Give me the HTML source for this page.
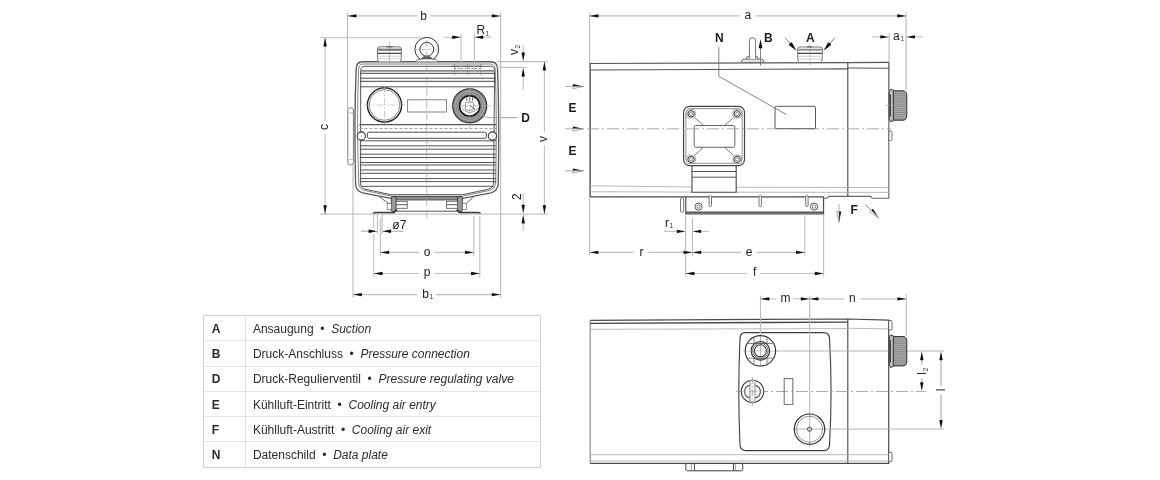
<!DOCTYPE html>
<html><head><meta charset="utf-8"><style>
html,body{margin:0;padding:0;background:#fff;}
body{width:1160px;height:480px;overflow:hidden;position:relative;filter:grayscale(1);font-family:"Liberation Sans",sans-serif;}
svg{position:absolute;left:0;top:0;}
svg text{font-family:"Liberation Sans",sans-serif;}
table{position:absolute;left:203px;top:315px;border-collapse:collapse;font-size:12px;color:#2b2b2b;font-family:"Liberation Sans",sans-serif;border:1px solid #cfcfcf;}
td{border:1px solid #e2e2e2;padding:1px 0 0 8px;box-sizing:border-box;height:25.3px;line-height:14px;}
tr:first-child td{border-top-color:#cfcfcf;} td.k{border-left-color:#cfcfcf;} td.v{border-right-color:#cfcfcf;}
td.k{width:42px;font-weight:bold;padding-left:7.8px;}
td.v{width:295px;padding-left:6.9px;}
tr:last-child td{border-bottom:1.5px solid #cfcfcf;}
</style></head><body>
<svg width="1160" height="480" viewBox="0 0 1160 480">
<path d="M362.5,61.7 L490.5,61.7 Q497.3,61.7 497.5,68.5 Q499.6,120 498.2,184 Q497.8,191 491,192.8 L461.5,198.6 L392.3,198.6 L362.6,192.8 Q355.8,191 355.6,184 Q354,120 356.2,68.5 Q356.6,61.7 362.5,61.7Z" fill="#fff" stroke="#5a5a5a" stroke-width="1.35"/>
<path d="M363,64.0 L490,64.0 Q495.2,64.0 495.2,69.5 Q497.2,120 495.6,183 Q495.2,188.8 489.5,190.4 L461.5,196.3 L392.3,196.3 L364.3,190.4 Q358.8,188.8 358.7,183 Q356.6,120 358.6,69.5 Q358.8,64.0 363,64.0Z" fill="none" stroke="#777" stroke-width="0.9"/>
<path d="M364.6,66.3 Q360.8,66.3 360.7,70.5 L360.6,183 Q360.6,188 366,189.4 L391,194.7 L462.5,194.7 L487.6,189.4 Q493.4,188 493.6,183 L494.6,70.5 Q494.5,66.3 490.5,66.3 Z" fill="none" stroke="#555" stroke-width="1"/>
<line x1="360" y1="70.8" x2="495.3" y2="70.8" stroke="#888" stroke-width="1.8" />
<line x1="360" y1="73.3" x2="495.3" y2="73.3" stroke="#444" stroke-width="1" />
<line x1="360" y1="78.2" x2="495.3" y2="78.2" stroke="#444" stroke-width="1" />
<line x1="360" y1="81.3" x2="495.3" y2="81.3" stroke="#444" stroke-width="1" />
<line x1="360" y1="86.8" x2="495.3" y2="86.8" stroke="#555" stroke-width="1" />
<line x1="359.5" y1="124.6" x2="496.3" y2="124.6" stroke="#555" stroke-width="1.2" />
<line x1="359.5" y1="128.5" x2="496.3" y2="128.5" stroke="#999" stroke-width="0.9" stroke-dasharray="3 2"/>
<line x1="359.8" y1="140.8" x2="496.2" y2="140.8" stroke="#555" stroke-width="1" />
<line x1="359.8" y1="145.8" x2="496.2" y2="145.8" stroke="#555" stroke-width="1" />
<line x1="359.8" y1="149.2" x2="496.2" y2="149.2" stroke="#555" stroke-width="1" />
<line x1="359.8" y1="154.2" x2="496.2" y2="154.2" stroke="#555" stroke-width="1" />
<line x1="359.8" y1="157.5" x2="496.2" y2="157.5" stroke="#555" stroke-width="1" />
<line x1="359.8" y1="162.5" x2="496.2" y2="162.5" stroke="#555" stroke-width="1" />
<line x1="359.8" y1="165.0" x2="496.2" y2="165.0" stroke="#555" stroke-width="1" />
<line x1="359.8" y1="170.0" x2="496.2" y2="170.0" stroke="#555" stroke-width="1" />
<line x1="359.8" y1="173.3" x2="496.2" y2="173.3" stroke="#555" stroke-width="1" />
<line x1="359.8" y1="178.6" x2="496.2" y2="178.6" stroke="#555" stroke-width="1" />
<line x1="359.8" y1="181.6" x2="496.2" y2="181.6" stroke="#555" stroke-width="1" />
<line x1="360.6" y1="186.3" x2="493.6" y2="186.3" stroke="#555" stroke-width="1" />
<rect x="392" y="196.4" width="69.4" height="3.6" fill="#8c8c8c" stroke="#444" stroke-width="0.8"/>
<line x1="396" y1="211.2" x2="457.5" y2="211.2" stroke="#555" stroke-width="1" />
<rect x="391.3" y="196.8" width="4.9" height="14.6" rx="1" fill="#9a9a9a" stroke="#3a3a3a" stroke-width="0.9"/>
<rect x="457.4" y="196.8" width="4.9" height="14.6" rx="1" fill="#9a9a9a" stroke="#3a3a3a" stroke-width="0.9"/>
<rect x="396.2" y="201.3" width="11" height="3.5" fill="#fff" stroke="#555" stroke-width="0.8"/>
<rect x="396.2" y="204.8" width="11" height="3.5" fill="#fff" stroke="#555" stroke-width="0.8"/>
<rect x="446.4" y="201.3" width="11" height="3.5" fill="#fff" stroke="#555" stroke-width="0.8"/>
<rect x="446.4" y="204.8" width="11" height="3.5" fill="#fff" stroke="#555" stroke-width="0.8"/>
<rect x="387.2" y="203.6" width="4.1" height="6" fill="#fff" stroke="#666" stroke-width="0.7"/>
<rect x="462.3" y="203.6" width="4.1" height="6" fill="#fff" stroke="#666" stroke-width="0.7"/>
<line x1="379" y1="196.6" x2="388.5" y2="203.3" stroke="#555" stroke-width="0.9" />
<line x1="473.8" y1="196.6" x2="466.3" y2="203.3" stroke="#555" stroke-width="0.9" />
<path d="M373.6,214 Q373.6,212.6 375.4,212.6 L393.8,212.6 L396.8,209.8" fill="none" stroke="#3c3c3c" stroke-width="1.9"/>
<path d="M480,214 Q480,212.6 478.2,212.6 L459.8,212.6 L456.8,209.8" fill="none" stroke="#3c3c3c" stroke-width="1.9"/>
<rect x="347.8" y="108" width="5.6" height="56.8" rx="1.8" fill="#fff" stroke="#7a7a7a" stroke-width="1"/>
<line x1="348.5" y1="113" x2="353" y2="113" stroke="#999" stroke-width="0.6" />
<line x1="348.5" y1="159.5" x2="353" y2="159.5" stroke="#999" stroke-width="0.6" />
<rect x="367.4" y="132.2" width="119" height="6.1" rx="1.5" fill="#fff" stroke="#444" stroke-width="0.95"/>
<circle cx="361.3" cy="136" r="4.1" fill="#fff" stroke="#333" stroke-width="1.1"/>
<circle cx="361.3" cy="136" r="0.6" fill="#777"/>
<circle cx="492.4" cy="136" r="4.1" fill="#fff" stroke="#333" stroke-width="1.1"/>
<circle cx="492.4" cy="136" r="0.6" fill="#777"/>
<circle cx="384.5" cy="105" r="17.1" fill="#fff" stroke="#222" stroke-width="1.4"/>
<circle cx="384.5" cy="105" r="15.3" fill="none" stroke="#555" stroke-width="0.7"/>
<rect x="407.6" y="99.8" width="39" height="12.2" fill="#fff" stroke="#777" stroke-width="0.9"/>
<circle cx="469.7" cy="105.8" r="17.1" fill="#858585" stroke="#333" stroke-width="1.1"/>
<circle cx="469.7" cy="105.8" r="14.6" fill="none" stroke="#d0d0d0" stroke-width="1" stroke-dasharray="1.2 0.8"/>
<circle cx="469.7" cy="105.8" r="12.6" fill="none" stroke="#c0c0c0" stroke-width="0.9" stroke-dasharray="1 0.8"/>
<circle cx="469.7" cy="105.9" r="10.1" fill="#fff" stroke="#111" stroke-width="1.45"/>
<rect x="465.3" y="102.2" width="8.4" height="7.8" rx="1.6" fill="none" stroke="#8a8a8a" stroke-width="1"/>
<path d="M469.6,105.4 L475.2,109.6" stroke="#555" stroke-width="0.9"/>
<path d="M461.6,108.2 Q469.7,116.8 477.8,108.2" fill="none" stroke="#777" stroke-width="0.8"/>
<line x1="466.8" y1="97.3" x2="466.8" y2="100.8" stroke="#444" stroke-width="0.9" />
<line x1="469.7" y1="97.3" x2="469.7" y2="100.8" stroke="#444" stroke-width="0.9" />
<line x1="472.59999999999997" y1="97.3" x2="472.59999999999997" y2="100.8" stroke="#444" stroke-width="0.9" />
<line x1="460.5" y1="105.9" x2="479" y2="105.9" stroke="#aaa" stroke-width="0.6" stroke-dasharray="3 1.5"/>
<path d="M482,114.5 Q485,117.7 490,117.7 L517.5,117.7" fill="none" stroke="#999" stroke-width="0.9"/>
<path d="M378.2,61.6 Q377.2,57 377.6,53.3 Q377,51.5 377.4,49.2 Q377.6,46.8 380,46.8 L398.8,46.8 Q401.2,46.8 401.4,49.2 Q401.8,51.5 401.2,53.3 Q401.6,57 400.6,61.6" fill="#fff" stroke="#666" stroke-width="0.9"/>
<rect x="377.6" y="48.6" width="23.6" height="2.2" fill="#7a7a7a"/>
<line x1="377.5" y1="53.3" x2="401.3" y2="53.3" stroke="#2a2a2a" stroke-width="1.1" />
<line x1="378" y1="56.2" x2="401" y2="56.2" stroke="#c4c4c4" stroke-width="0.8" />
<line x1="378" y1="58.7" x2="401" y2="58.7" stroke="#c4c4c4" stroke-width="0.8" />
<rect x="386.2" y="46" width="6.5" height="1.6" rx="0.8" fill="#666"/>
<circle cx="426.8" cy="49.3" r="11.9" fill="none" stroke="#333" stroke-width="1"/>
<circle cx="426.8" cy="49.3" r="6.9" fill="#fff" stroke="#333" stroke-width="1"/>
<path d="M415.5,61.6 L418,59.3 L421.2,59.3 Q422.5,56.2 426.8,56.2 Q431.1,56.2 432.4,59.3 L435.6,59.3 L438.2,61.6" fill="#fff" stroke="#555" stroke-width="0.8"/>
<path d="M421.2,59.3 Q422.5,56.2 426.8,56.2 Q431.1,56.2 432.4,59.3 Z" fill="#555"/>
<line x1="452.5" y1="66.3" x2="482.5" y2="66.3" stroke="#555" stroke-width="1" />
<line x1="454" y1="68.6" x2="482" y2="68.6" stroke="#666" stroke-width="0.8" stroke-dasharray="2 1.5"/>
<line x1="454.6" y1="64" x2="454.6" y2="75" stroke="#777" stroke-width="0.7" stroke-dasharray="2 1.2"/>
<line x1="467.5" y1="64" x2="467.5" y2="75" stroke="#777" stroke-width="0.7" stroke-dasharray="2 1.2"/>
<line x1="480.7" y1="64" x2="480.7" y2="75" stroke="#777" stroke-width="0.7" stroke-dasharray="2 1.2"/>
<line x1="426.8" y1="40" x2="426.8" y2="219" stroke="#999" stroke-width="0.7" stroke-dasharray="7 2 1.2 2"/>
<line x1="416" y1="49.3" x2="438" y2="49.3" stroke="#999" stroke-width="0.6" stroke-dasharray="4 2"/>
<line x1="389.4" y1="42" x2="389.4" y2="66" stroke="#999" stroke-width="0.6" stroke-dasharray="7 2 1.2 2"/>
<line x1="364" y1="105" x2="405" y2="105" stroke="#aaa" stroke-width="0.6" stroke-dasharray="7 2 1.2 2"/>
<line x1="384.5" y1="86" x2="384.5" y2="124" stroke="#aaa" stroke-width="0.6" stroke-dasharray="7 2 1.2 2"/>
<line x1="449" y1="105.8" x2="491" y2="105.8" stroke="#aaa" stroke-width="0.6" stroke-dasharray="7 2 1.2 2"/>
<line x1="469.7" y1="86" x2="469.7" y2="130" stroke="#aaa" stroke-width="0.6" stroke-dasharray="7 2 1.2 2"/>
<line x1="347.5" y1="12.8" x2="347.5" y2="108" stroke="#bcbcbc" stroke-width="1.1" />
<line x1="500.6" y1="12.8" x2="500.6" y2="297.5" stroke="#bcbcbc" stroke-width="1.1" />
<line x1="347.5" y1="15.9" x2="417.3" y2="15.9" stroke="#c0c0c0" stroke-width="1.1" />
<line x1="429.9" y1="15.9" x2="500.6" y2="15.9" stroke="#c0c0c0" stroke-width="1.1" />
<path d="M347.50,15.90 L356.10,14.20 Q356.90,15.90 356.10,17.60Z" fill="#111"/>
<path d="M500.60,15.90 L492.00,17.60 Q491.20,15.90 492.00,14.20Z" fill="#111"/>
<text x="423.5" y="20.0" font-size="12" text-anchor="middle" fill="#1c1c1c" >b</text>
<line x1="320" y1="37.7" x2="421.5" y2="37.7" stroke="#bcbcbc" stroke-width="1.1" />
<line x1="320" y1="214.1" x2="547.6" y2="214.1" stroke="#c4c4c4" stroke-width="1.1" />
<line x1="325.1" y1="37.7" x2="325.1" y2="121" stroke="#c0c0c0" stroke-width="1.1" />
<line x1="325.1" y1="133.7" x2="325.1" y2="214.1" stroke="#c0c0c0" stroke-width="1.1" />
<path d="M325.10,37.70 L326.80,46.30 Q325.10,47.10 323.40,46.30Z" fill="#111"/>
<path d="M325.10,214.10 L323.40,205.50 Q325.10,204.70 326.80,205.50Z" fill="#111"/>
<text x="328.2" y="127.1" font-size="12" text-anchor="middle" fill="#1c1c1c" transform="rotate(-90 328.2 127.1)" >c</text>
<line x1="497" y1="61.6" x2="547.6" y2="61.6" stroke="#bcbcbc" stroke-width="1.1" />
<line x1="544.4" y1="61.6" x2="544.4" y2="132.5" stroke="#c0c0c0" stroke-width="1.1" />
<line x1="544.4" y1="145.3" x2="544.4" y2="214.1" stroke="#c0c0c0" stroke-width="1.1" />
<path d="M544.40,61.60 L546.10,70.20 Q544.40,71.00 542.70,70.20Z" fill="#111"/>
<path d="M544.40,214.10 L542.70,205.50 Q544.40,204.70 546.10,205.50Z" fill="#111"/>
<text x="547.5" y="139.1" font-size="12" text-anchor="middle" fill="#1c1c1c" transform="rotate(-90 547.5 139.1)" >v</text>
<line x1="497" y1="67.4" x2="526.5" y2="67.4" stroke="#bcbcbc" stroke-width="1.1" />
<line x1="523.2" y1="44.7" x2="523.2" y2="53" stroke="#c0c0c0" stroke-width="1.1" />
<path d="M523.20,61.30 L521.50,52.70 Q523.20,51.90 524.90,52.70Z" fill="#111"/>
<line x1="523.2" y1="76" x2="523.2" y2="90" stroke="#c0c0c0" stroke-width="1.1" />
<path d="M523.20,67.70 L524.90,76.30 Q523.20,77.10 521.50,76.30Z" fill="#111"/>
<text x="518.3" y="52" font-size="12" text-anchor="middle" fill="#1c1c1c" transform="rotate(-90 518.3 52)" >v</text>
<text x="520.2" y="46.6" font-size="6.5" text-anchor="middle" fill="#333" transform="rotate(-90 520.2 46.6)" >2</text>
<line x1="461" y1="34" x2="461" y2="75" stroke="#bcbcbc" stroke-width="1.1" />
<line x1="474.4" y1="34" x2="474.4" y2="75" stroke="#bcbcbc" stroke-width="1.1" />
<line x1="444" y1="37.3" x2="452" y2="37.3" stroke="#c0c0c0" stroke-width="1.1" />
<path d="M461.00,37.30 L452.40,39.00 Q451.60,37.30 452.40,35.60Z" fill="#111"/>
<line x1="483" y1="37.3" x2="491" y2="37.3" stroke="#c0c0c0" stroke-width="1.1" />
<path d="M474.40,37.30 L483.00,35.60 Q483.80,37.30 483.00,39.00Z" fill="#111"/>
<text x="476.6" y="33.7" font-size="12" text-anchor="start" fill="#1c1c1c" >R</text>
<text x="485.6" y="36.0" font-size="6.5" text-anchor="start" fill="#333" >1</text>
<line x1="523.2" y1="192.8" x2="523.2" y2="205" stroke="#c0c0c0" stroke-width="1.1" />
<path d="M523.20,213.60 L521.50,205.00 Q523.20,204.20 524.90,205.00Z" fill="#111"/>
<line x1="523.2" y1="223" x2="523.2" y2="231" stroke="#c0c0c0" stroke-width="1.1" />
<path d="M523.20,214.60 L524.90,223.20 Q523.20,224.00 521.50,223.20Z" fill="#111"/>
<text x="520.6" y="196.7" font-size="12" text-anchor="middle" fill="#1c1c1c" transform="rotate(-90 520.6 196.7)" >2</text>
<line x1="380.3" y1="218" x2="380.3" y2="256" stroke="#bcbcbc" stroke-width="1.1" />
<line x1="473.8" y1="216" x2="473.8" y2="256" stroke="#bcbcbc" stroke-width="1.1" />
<line x1="380.3" y1="252.4" x2="419.1" y2="252.4" stroke="#c0c0c0" stroke-width="1.1" />
<line x1="434.3" y1="252.4" x2="473.8" y2="252.4" stroke="#c0c0c0" stroke-width="1.1" />
<path d="M380.30,252.40 L388.90,250.70 Q389.70,252.40 388.90,254.10Z" fill="#111"/>
<path d="M473.80,252.40 L465.20,254.10 Q464.40,252.40 465.20,250.70Z" fill="#111"/>
<text x="427" y="255.6" font-size="12" text-anchor="middle" fill="#1c1c1c" >o</text>
<line x1="373.8" y1="215" x2="373.8" y2="228" stroke="#bcbcbc" stroke-width="1.1" />
<line x1="373.8" y1="234" x2="373.8" y2="277.5" stroke="#bcbcbc" stroke-width="1.1" />
<line x1="479.8" y1="216" x2="479.8" y2="277.5" stroke="#bcbcbc" stroke-width="1.1" />
<line x1="373.8" y1="273.5" x2="419.1" y2="273.5" stroke="#c0c0c0" stroke-width="1.1" />
<line x1="434.3" y1="273.5" x2="479.8" y2="273.5" stroke="#c0c0c0" stroke-width="1.1" />
<path d="M373.80,273.50 L382.40,271.80 Q383.20,273.50 382.40,275.20Z" fill="#111"/>
<path d="M479.80,273.50 L471.20,275.20 Q470.40,273.50 471.20,271.80Z" fill="#111"/>
<text x="427" y="276.2" font-size="12" text-anchor="middle" fill="#1c1c1c" >p</text>
<line x1="353" y1="165" x2="353" y2="297.5" stroke="#bcbcbc" stroke-width="1.1" />
<line x1="353" y1="294.6" x2="417.4" y2="294.6" stroke="#c0c0c0" stroke-width="1.1" />
<line x1="436" y1="294.6" x2="500.6" y2="294.6" stroke="#c0c0c0" stroke-width="1.1" />
<path d="M353.00,294.60 L361.60,292.90 Q362.40,294.60 361.60,296.30Z" fill="#111"/>
<path d="M500.60,294.60 L492.00,296.30 Q491.20,294.60 492.00,292.90Z" fill="#111"/>
<text x="425.5" y="298.3" font-size="12" text-anchor="middle" fill="#1c1c1c" >b</text>
<text x="429.8" y="298.6" font-size="6.5" text-anchor="start" fill="#333" >1</text>
<line x1="377.4" y1="215" x2="377.4" y2="234" stroke="#bcbcbc" stroke-width="1.1" />
<line x1="382.2" y1="215" x2="382.2" y2="234" stroke="#bcbcbc" stroke-width="1.1" />
<line x1="361" y1="231.2" x2="369" y2="231.2" stroke="#aaa" stroke-width="1.1" />
<path d="M377.40,231.20 L368.80,232.90 Q368.00,231.20 368.80,229.50Z" fill="#111"/>
<line x1="391" y1="231.2" x2="403.6" y2="231.2" stroke="#aaa" stroke-width="1.1" />
<path d="M382.20,231.20 L390.80,229.50 Q391.60,231.20 390.80,232.90Z" fill="#111"/>
<text x="392.3" y="229.1" font-size="12" text-anchor="start" fill="#1c1c1c" >ø7</text>
<text x="525.5" y="121.9" font-size="12" text-anchor="middle" font-weight="bold" fill="#1c1c1c" >D</text>
<line x1="589.6" y1="12.8" x2="589.6" y2="255" stroke="#bcbcbc" stroke-width="1.1" />
<line x1="906.1" y1="12.5" x2="906.1" y2="90" stroke="#bcbcbc" stroke-width="1.1" />
<line x1="589.6" y1="15.9" x2="739.8" y2="15.9" stroke="#c0c0c0" stroke-width="1.1" />
<line x1="755.8" y1="15.9" x2="906.1" y2="15.9" stroke="#c0c0c0" stroke-width="1.1" />
<path d="M589.60,15.90 L598.20,14.20 Q599.00,15.90 598.20,17.60Z" fill="#111"/>
<path d="M906.10,15.90 L897.50,17.60 Q896.70,15.90 897.50,14.20Z" fill="#111"/>
<text x="747.9" y="18.7" font-size="12" text-anchor="middle" fill="#1c1c1c" >a</text>
<line x1="889.1" y1="33.6" x2="889.1" y2="90" stroke="#bcbcbc" stroke-width="1.1" />
<line x1="872" y1="36.9" x2="881" y2="36.9" stroke="#c0c0c0" stroke-width="1.1" />
<path d="M889.10,36.90 L880.50,38.60 Q879.70,36.90 880.50,35.20Z" fill="#111"/>
<line x1="914" y1="36.9" x2="922.5" y2="36.9" stroke="#c0c0c0" stroke-width="1.1" />
<path d="M906.10,36.90 L914.70,35.20 Q915.50,36.90 914.70,38.60Z" fill="#111"/>
<text x="893" y="40.1" font-size="12" text-anchor="start" fill="#1c1c1c" >a</text>
<text x="900.4" y="41.4" font-size="6.5" text-anchor="start" fill="#333" >1</text>
<line x1="565" y1="86.4" x2="575" y2="86.4" stroke="#aaa" stroke-width="1" />
<path d="M583.70,86.40 L572.90,84.10 L572.90,86.40Z" fill="#111"/>
<path d="M583.70,86.40 L572.90,88.70 L572.90,86.40Z" fill="#fff" stroke="#777" stroke-width="0.6"/>
<line x1="565" y1="128.8" x2="575" y2="128.8" stroke="#aaa" stroke-width="1" />
<path d="M583.70,128.80 L572.90,126.50 L572.90,128.80Z" fill="#111"/>
<path d="M583.70,128.80 L572.90,131.10 L572.90,128.80Z" fill="#fff" stroke="#777" stroke-width="0.6"/>
<line x1="565" y1="170.8" x2="575" y2="170.8" stroke="#aaa" stroke-width="1" />
<path d="M583.70,170.80 L572.90,168.50 L572.90,170.80Z" fill="#111"/>
<path d="M583.70,170.80 L572.90,173.10 L572.90,170.80Z" fill="#fff" stroke="#777" stroke-width="0.6"/>
<text x="572.6" y="112" font-size="12" text-anchor="middle" font-weight="bold" fill="#1c1c1c" >E</text>
<text x="572.6" y="154.5" font-size="12" text-anchor="middle" font-weight="bold" fill="#1c1c1c" >E</text>
<path d="M590.2,196.8 L590.2,63.5 L847.8,62.6 L888.8,62.3" fill="none" stroke="#555" stroke-width="1.2"/>
<path d="M888.8,62.3 L888.8,198.3 L872.2,198.3 L870.5,196.4 L829,196.4 L826.8,198.2 L823.6,198.2" fill="none" stroke="#666" stroke-width="1.1"/>
<line x1="590.2" y1="70.0" x2="847.8" y2="68.9" stroke="#555" stroke-width="1.2" />
<line x1="847.8" y1="68.0" x2="888.8" y2="68.3" stroke="#555" stroke-width="1.1" />
<line x1="847.8" y1="62.3" x2="847.8" y2="196.4" stroke="#444" stroke-width="1.1" />
<line x1="590.2" y1="196.8" x2="823.6" y2="196.8" stroke="#4a4a4a" stroke-width="1.2" />
<line x1="590.5" y1="185.8" x2="692" y2="187" stroke="#b0b0b0" stroke-width="0.9" />
<line x1="736" y1="187.2" x2="888.5" y2="187.6" stroke="#b0b0b0" stroke-width="0.9" />
<line x1="590.5" y1="191.7" x2="692" y2="192.1" stroke="#b0b0b0" stroke-width="0.9" />
<line x1="736" y1="192.2" x2="888.5" y2="192.4" stroke="#b0b0b0" stroke-width="0.9" />
<path d="M685.8,196.8 L685.8,214 L823.6,214 L823.6,196.8" fill="none" stroke="#444" stroke-width="1.1"/>
<line x1="686" y1="212.6" x2="823.5" y2="212.6" stroke="#555" stroke-width="2" />
<rect x="680.5" y="198" width="3.2" height="14" rx="1" fill="#fff" stroke="#666" stroke-width="0.9"/>
<rect x="709.0999999999999" y="195.6" width="2.4" height="11" rx="1.2" fill="#fff" stroke="#666" stroke-width="0.9"/>
<rect x="759.0" y="195.6" width="2.4" height="11" rx="1.2" fill="#fff" stroke="#666" stroke-width="0.9"/>
<rect x="805.6999999999999" y="195.6" width="2.4" height="11" rx="1.2" fill="#fff" stroke="#666" stroke-width="0.9"/>
<circle cx="698.6" cy="206.6" r="3.6" fill="#fff" stroke="#555" stroke-width="1"/>
<circle cx="698.6" cy="206.6" r="1.7" fill="none" stroke="#666" stroke-width="0.8"/>
<circle cx="814.1" cy="206.6" r="3.6" fill="#fff" stroke="#555" stroke-width="1"/>
<circle cx="814.1" cy="206.6" r="1.7" fill="none" stroke="#666" stroke-width="0.8"/>
<path d="M692,165 L692,192.2 L736.2,192.2 L736.2,165" fill="#fff" stroke="#444" stroke-width="1.1"/>
<line x1="692" y1="171.5" x2="736.2" y2="171.5" stroke="#555" stroke-width="1" />
<line x1="692" y1="177.2" x2="736.2" y2="177.2" stroke="#555" stroke-width="1" />
<rect x="683.6" y="106.3" width="60.9" height="59.3" rx="6" fill="#fff" stroke="#444" stroke-width="1.2"/>
<rect x="685.9" y="108.6" width="56.3" height="54.7" rx="4.5" fill="none" stroke="#777" stroke-width="0.8"/>
<rect x="694.2" y="125.5" width="40.6" height="21.8" rx="1.6" fill="#fff" stroke="#666" stroke-width="1"/>
<path d="M694.5,117.5 L703,125 M733.5,117.5 L725,125 M703,147.7 L694.5,155.5 M725,147.7 L733.5,155.5" stroke="#555" stroke-width="0.8"/>
<rect x="686.9" y="109.6" width="8.4" height="8.4" rx="2" fill="#fff" stroke="#888" stroke-width="0.7"/>
<circle cx="691.1" cy="113.8" r="3.2" fill="#fff" stroke="#333" stroke-width="1"/>
<circle cx="691.1" cy="113.8" r="1.6" fill="none" stroke="#666" stroke-width="0.7"/>
<rect x="733.0" y="109.6" width="8.4" height="8.4" rx="2" fill="#fff" stroke="#888" stroke-width="0.7"/>
<circle cx="737.2" cy="113.8" r="3.2" fill="#fff" stroke="#333" stroke-width="1"/>
<circle cx="737.2" cy="113.8" r="1.6" fill="none" stroke="#666" stroke-width="0.7"/>
<rect x="686.9" y="155.20000000000002" width="8.4" height="8.4" rx="2" fill="#fff" stroke="#888" stroke-width="0.7"/>
<circle cx="691.1" cy="159.4" r="3.2" fill="#fff" stroke="#333" stroke-width="1"/>
<circle cx="691.1" cy="159.4" r="1.6" fill="none" stroke="#666" stroke-width="0.7"/>
<rect x="733.0" y="155.20000000000002" width="8.4" height="8.4" rx="2" fill="#fff" stroke="#888" stroke-width="0.7"/>
<circle cx="737.2" cy="159.4" r="3.2" fill="#fff" stroke="#333" stroke-width="1"/>
<circle cx="737.2" cy="159.4" r="1.6" fill="none" stroke="#666" stroke-width="0.7"/>
<line x1="587" y1="128.8" x2="891" y2="128.8" stroke="#999" stroke-width="0.8" stroke-dasharray="12 3 2 3"/>
<rect x="775" y="106.3" width="40.5" height="22.4" rx="1.5" fill="#fff" stroke="#555" stroke-width="1"/>
<path d="M718.8,47 L718.8,76.3 L786.3,114.5" fill="none" stroke="#666" stroke-width="0.8"/>
<text x="719.3" y="42.2" font-size="12" text-anchor="middle" font-weight="bold" fill="#1c1c1c" >N</text>
<path d="M741.2,62.4 Q741.6,59.2 744,59.1 L762,59.1 Q763.6,59.2 763.8,62.4Z" fill="#e8e8e8" stroke="#666" stroke-width="0.9"/>
<path d="M746.4,59.1 Q746.3,56.2 749.3,56.3 M758.4,59.1 Q758.5,56.2 755.6,56.3" fill="none" stroke="#555" stroke-width="0.9"/>
<path d="M749.4,58.8 L749.4,40.8 Q749.4,37.6 752.5,37.6 Q755.6,37.6 755.6,40.8 L755.6,58.8" fill="#fff" stroke="#777" stroke-width="1"/>
<line x1="760.5" y1="46" x2="760.5" y2="65.5" stroke="#666" stroke-width="0.8" />
<path d="M760.50,39.30 L762.40,48.10 Q760.50,48.90 758.60,48.10Z" fill="#111"/>
<text x="768.3" y="42.2" font-size="12" text-anchor="middle" font-weight="bold" fill="#1c1c1c" >B</text>
<path d="M798.3,61.6 Q797.4,57 797.8,53.3 Q797.2,51.5 797.6,49 Q797.8,47 800,47 L820,47 Q822.2,47 822.4,49 Q822.8,51.5 822.2,53.3 Q822.6,57 821.7,61.6" fill="#fff" stroke="#666" stroke-width="0.9"/>
<rect x="797.8" y="48.8" width="24.4" height="1.8" fill="#8a8a8a"/>
<line x1="797.6" y1="53.3" x2="822.4" y2="53.3" stroke="#2a2a2a" stroke-width="1.1" />
<line x1="798" y1="56.3" x2="822" y2="56.3" stroke="#c4c4c4" stroke-width="0.8" />
<line x1="798" y1="59" x2="822" y2="59" stroke="#c4c4c4" stroke-width="0.8" />
<rect x="807" y="46.2" width="5.5" height="1.4" rx="0.7" fill="#666"/>
<line x1="810" y1="44.5" x2="810" y2="67" stroke="#999" stroke-width="0.6" stroke-dasharray="3 1.5"/>
<line x1="785" y1="37.5" x2="791" y2="44.5" stroke="#666" stroke-width="0.8" />
<path d="M796.50,50.80 L788.78,44.91 Q789.78,43.00 791.81,42.30Z" fill="#111"/>
<line x1="835" y1="37.5" x2="829" y2="44.5" stroke="#666" stroke-width="0.8" />
<path d="M823.50,50.80 L828.19,42.30 Q830.22,43.00 831.22,44.91Z" fill="#111"/>
<text x="810.3" y="42.3" font-size="12" text-anchor="middle" font-weight="bold" fill="#1c1c1c" >A</text>
<path d="M893.3,90.8 L904,90.8 Q906.8,91.8 906.8,94.8 L906.8,116.2 Q906.8,119.2 904,120.2 L893.3,120.2Z" fill="#8e8e8e" stroke="#3a3a3a" stroke-width="1"/>
<line x1="894" y1="92.5" x2="906" y2="92.5" stroke="#b4b4b4" stroke-width="0.7" />
<line x1="894" y1="94.6" x2="906" y2="94.6" stroke="#b4b4b4" stroke-width="0.7" />
<line x1="894" y1="96.7" x2="906" y2="96.7" stroke="#b4b4b4" stroke-width="0.7" />
<line x1="894" y1="98.8" x2="906" y2="98.8" stroke="#b4b4b4" stroke-width="0.7" />
<line x1="894" y1="100.9" x2="906" y2="100.9" stroke="#b4b4b4" stroke-width="0.7" />
<line x1="894" y1="103.0" x2="906" y2="103.0" stroke="#b4b4b4" stroke-width="0.7" />
<line x1="894" y1="105.1" x2="906" y2="105.1" stroke="#b4b4b4" stroke-width="0.7" />
<line x1="894" y1="107.2" x2="906" y2="107.2" stroke="#b4b4b4" stroke-width="0.7" />
<line x1="894" y1="109.3" x2="906" y2="109.3" stroke="#b4b4b4" stroke-width="0.7" />
<line x1="894" y1="111.4" x2="906" y2="111.4" stroke="#b4b4b4" stroke-width="0.7" />
<line x1="894" y1="113.5" x2="906" y2="113.5" stroke="#b4b4b4" stroke-width="0.7" />
<line x1="894" y1="115.6" x2="906" y2="115.6" stroke="#b4b4b4" stroke-width="0.7" />
<line x1="894" y1="117.7" x2="906" y2="117.7" stroke="#b4b4b4" stroke-width="0.7" />
<path d="M890.4,89.3 L893.3,90.1 L893.3,120.9 L890.4,121.7 Q889.2,119.7 889.2,117.7 L889.2,93.3 Q889.2,91.3 890.4,89.3Z" fill="#c4c4c4" stroke="#3a3a3a" stroke-width="1"/>
<line x1="890.3" y1="94.3" x2="890.3" y2="116.7" stroke="#333" stroke-width="1.2" />
<line x1="885.5" y1="105.3" x2="908.5" y2="105.3" stroke="#999" stroke-width="0.6" stroke-dasharray="5 2 1 2"/>
<rect x="888.9" y="131" width="3" height="9.5" rx="1" fill="#fff" stroke="#555" stroke-width="0.8"/>
<line x1="839" y1="204" x2="839" y2="213" stroke="#aaa" stroke-width="0.9" />
<path d="M839.00,222.30 L841.30,211.50 L839.00,211.50Z" fill="#111"/>
<path d="M839.00,222.30 L836.70,211.50 L839.00,211.50Z" fill="#fff" stroke="#777" stroke-width="0.6"/>
<line x1="865.7" y1="204.5" x2="871.5" y2="211" stroke="#777" stroke-width="0.8" />
<path d="M878.80,218.00 L872.93,208.65 L871.28,210.25Z" fill="#111"/>
<path d="M878.80,218.00 L869.63,211.85 L871.28,210.25Z" fill="#fff" stroke="#777" stroke-width="0.6"/>
<text x="854.1" y="214" font-size="12" text-anchor="middle" font-weight="bold" fill="#1c1c1c" >F</text>
<line x1="685.6" y1="214" x2="685.6" y2="276.5" stroke="#bcbcbc" stroke-width="1.1" />
<line x1="692.4" y1="217.9" x2="692.4" y2="255.5" stroke="#bcbcbc" stroke-width="1.1" />
<line x1="804.8" y1="214" x2="804.8" y2="255.5" stroke="#bcbcbc" stroke-width="1.1" />
<line x1="823.6" y1="214" x2="823.6" y2="276.5" stroke="#bcbcbc" stroke-width="1.1" />
<line x1="589.6" y1="252.4" x2="633.5" y2="252.4" stroke="#c0c0c0" stroke-width="1.1" />
<line x1="648.1" y1="252.4" x2="692.4" y2="252.4" stroke="#c0c0c0" stroke-width="1.1" />
<path d="M589.60,252.40 L598.20,250.70 Q599.00,252.40 598.20,254.10Z" fill="#111"/>
<path d="M692.40,252.40 L683.80,254.10 Q683.00,252.40 683.80,250.70Z" fill="#111"/>
<text x="641.4" y="255.6" font-size="12" text-anchor="middle" fill="#1c1c1c" >r</text>
<line x1="692.4" y1="252.4" x2="740.8" y2="252.4" stroke="#c0c0c0" stroke-width="1.1" />
<line x1="756.2" y1="252.4" x2="804.8" y2="252.4" stroke="#c0c0c0" stroke-width="1.1" />
<path d="M692.40,252.40 L701.00,250.70 Q701.80,252.40 701.00,254.10Z" fill="#111"/>
<path d="M804.80,252.40 L796.20,254.10 Q795.40,252.40 796.20,250.70Z" fill="#111"/>
<text x="749" y="255.6" font-size="12" text-anchor="middle" fill="#1c1c1c" >e</text>
<line x1="685.6" y1="273.5" x2="747" y2="273.5" stroke="#c0c0c0" stroke-width="1.1" />
<line x1="759.8" y1="273.5" x2="823.6" y2="273.5" stroke="#c0c0c0" stroke-width="1.1" />
<path d="M685.60,273.50 L694.20,271.80 Q695.00,273.50 694.20,275.20Z" fill="#111"/>
<path d="M823.60,273.50 L815.00,275.20 Q814.20,273.50 815.00,271.80Z" fill="#111"/>
<text x="754.6" y="276.4" font-size="12" text-anchor="middle" fill="#1c1c1c" >f</text>
<line x1="664.1" y1="231.4" x2="676" y2="231.4" stroke="#c0c0c0" stroke-width="1.1" />
<path d="M685.60,231.40 L677.00,233.10 Q676.20,231.40 677.00,229.70Z" fill="#111"/>
<line x1="702" y1="231.4" x2="709.2" y2="231.4" stroke="#c0c0c0" stroke-width="1.1" />
<path d="M692.40,231.40 L701.00,229.70 Q701.80,231.40 701.00,233.10Z" fill="#111"/>
<text x="665" y="227" font-size="12" text-anchor="start" fill="#1c1c1c" >r</text>
<text x="669.5" y="228.0" font-size="6.5" text-anchor="start" fill="#333" >1</text>
<line x1="921.8" y1="359" x2="921.8" y2="364.8" stroke="#aaa" stroke-width="1.1" />
<path d="M921.80,351.30 L923.50,359.90 Q921.80,360.70 920.10,359.90Z" fill="#111"/>
<line x1="921.8" y1="378" x2="921.8" y2="382" stroke="#aaa" stroke-width="1.1" />
<path d="M921.80,391.00 L920.10,382.40 Q921.80,381.60 923.50,382.40Z" fill="#111"/>
<text x="926.1" y="373.3" font-size="12" text-anchor="middle" fill="#1c1c1c" transform="rotate(-90 926.1 373.3)" >l</text>
<text x="927.6" y="369.5" font-size="6.5" text-anchor="middle" fill="#333" transform="rotate(-90 927.6 369.5)" >2</text>
<line x1="941" y1="359" x2="941" y2="385.9" stroke="#aaa" stroke-width="1.1" />
<path d="M941.00,351.30 L942.70,359.90 Q941.00,360.70 939.30,359.90Z" fill="#111"/>
<line x1="941" y1="394.4" x2="941" y2="421" stroke="#aaa" stroke-width="1.1" />
<path d="M941.00,428.90 L939.30,420.30 Q941.00,419.50 942.70,420.30Z" fill="#111"/>
<text x="945" y="389.8" font-size="12" text-anchor="middle" fill="#1c1c1c" transform="rotate(-90 945 389.8)" >l</text>
<path d="M590.2,320.4 L847.8,319 L888.7,320.2 L888.7,463.4 L590.2,463.4" fill="none" stroke="#4a4a4a" stroke-width="1.2"/>
<line x1="590.2" y1="320.4" x2="590.2" y2="463.4" stroke="#8a8a8a" stroke-width="1.2" />
<line x1="590.2" y1="323.3" x2="847.8" y2="322.1" stroke="#444" stroke-width="1.3" />
<line x1="847.8" y1="319" x2="847.8" y2="463.4" stroke="#444" stroke-width="1.1" />
<line x1="590.5" y1="329.3" x2="847.8" y2="328.6" stroke="#b0b0b0" stroke-width="0.9" />
<line x1="847.8" y1="328.2" x2="888.5" y2="328.9" stroke="#b0b0b0" stroke-width="0.9" />
<line x1="590.5" y1="454.7" x2="888.5" y2="454.7" stroke="#b0b0b0" stroke-width="0.9" />
<line x1="590.5" y1="460.9" x2="888.5" y2="460.9" stroke="#b0b0b0" stroke-width="0.9" />
<rect x="888.7" y="320.5" width="3.3" height="9.5" rx="1" fill="#fff" stroke="#555" stroke-width="0.9"/>
<rect x="888.7" y="452.4" width="3.3" height="9" rx="1" fill="#fff" stroke="#555" stroke-width="0.9"/>
<rect x="685.8" y="463.5" width="57" height="7.3" rx="1.5" fill="#fff" stroke="#444" stroke-width="1"/>
<line x1="691.3" y1="463.5" x2="691.3" y2="470.8" stroke="#777" stroke-width="0.8" />
<line x1="694.4" y1="463.5" x2="694.4" y2="470.8" stroke="#444" stroke-width="1" />
<line x1="733.4" y1="463.5" x2="733.4" y2="470.8" stroke="#444" stroke-width="1" />
<line x1="735.2" y1="463.5" x2="735.2" y2="470.8" stroke="#777" stroke-width="0.8" />
<path d="M745.5,332.6 L823.5,332.6 Q829.3,332.6 829.5,338.5 Q832.6,391 829.5,445 Q829.3,450.6 823.5,450.6 L746,450.6 Q740.2,450.6 740,445 Q737.6,391 740,338.5 Q740.2,332.6 745.5,332.6Z" fill="#fff" stroke="#3c3c3c" stroke-width="1.1"/>
<line x1="760.5" y1="295.5" x2="760.5" y2="366" stroke="#bcbcbc" stroke-width="1.1" />
<line x1="809.6" y1="295.5" x2="809.6" y2="447" stroke="#bcbcbc" stroke-width="1.1" />
<line x1="906.2" y1="293.5" x2="906.2" y2="336" stroke="#bcbcbc" stroke-width="1.1" />
<line x1="760.5" y1="298.9" x2="776.6" y2="298.9" stroke="#c0c0c0" stroke-width="1.1" />
<line x1="792.9" y1="298.9" x2="809.6" y2="298.9" stroke="#c0c0c0" stroke-width="1.1" />
<path d="M760.50,298.90 L769.10,297.20 Q769.90,298.90 769.10,300.60Z" fill="#111"/>
<path d="M809.60,298.90 L801.00,300.60 Q800.20,298.90 801.00,297.20Z" fill="#111"/>
<text x="785.5" y="302.2" font-size="12" text-anchor="middle" fill="#1c1c1c" >m</text>
<line x1="809.6" y1="298.9" x2="844.1" y2="298.9" stroke="#c0c0c0" stroke-width="1.1" />
<line x1="860.7" y1="298.9" x2="906.2" y2="298.9" stroke="#c0c0c0" stroke-width="1.1" />
<path d="M809.60,298.90 L818.20,297.20 Q819.00,298.90 818.20,300.60Z" fill="#111"/>
<path d="M906.20,298.90 L897.60,300.60 Q896.80,298.90 897.60,297.20Z" fill="#111"/>
<text x="852.4" y="302.2" font-size="12" text-anchor="middle" fill="#1c1c1c" >n</text>
<line x1="774" y1="351" x2="944" y2="351" stroke="#aaa" stroke-width="0.9" />
<line x1="743" y1="351" x2="777" y2="351" stroke="#aaa" stroke-width="0.6" stroke-dasharray="7 2 1.2 2"/>
<line x1="793" y1="429.1" x2="944" y2="429.1" stroke="#aaa" stroke-width="0.9" />
<line x1="736" y1="391.5" x2="926" y2="391.5" stroke="#999" stroke-width="0.8" stroke-dasharray="12 3 2 3"/>
<circle cx="760.4" cy="350.8" r="15.2" fill="none" stroke="#333" stroke-width="1.1"/>
<path d="M746.5,343.5 L774.3,343.5 M746.5,358.2 L774.3,358.2 M754,336.5 L754,343.5 M767,336.5 L767,343.5 M754,358.2 L754,365 M767,358.2 L767,365" stroke="#666" stroke-width="0.8"/>
<circle cx="760.4" cy="350.8" r="9.3" fill="none" stroke="#333" stroke-width="1.1"/>
<circle cx="760.4" cy="350.8" r="7.7" fill="none" stroke="#555" stroke-width="0.9"/>
<circle cx="760.4" cy="350.8" r="6" fill="none" stroke="#333" stroke-width="1.1"/>
<circle cx="752.5" cy="391.4" r="11.2" fill="#fff" stroke="#333" stroke-width="1.1"/>
<path d="M750,385.2 A6.5,6.5 0 0 0 750,398 M755,385.2 A6.5,6.5 0 0 1 755,398" fill="none" stroke="#333" stroke-width="1.1"/>
<rect x="749.9" y="380.6" width="5.2" height="21.6" fill="#fff" stroke="#8a8a8a" stroke-width="0.9"/>
<line x1="750.9" y1="381" x2="750.9" y2="402" stroke="#b0b0b0" stroke-width="0.6" />
<line x1="754.1" y1="381" x2="754.1" y2="402" stroke="#b0b0b0" stroke-width="0.6" />
<line x1="738" y1="391.4" x2="767" y2="391.4" stroke="#999" stroke-width="0.6" stroke-dasharray="7 2 1.2 2"/>
<line x1="752.5" y1="377" x2="752.5" y2="406" stroke="#999" stroke-width="0.6" stroke-dasharray="7 2 1.2 2"/>
<rect x="784.2" y="378.6" width="8.6" height="25.9" fill="none" stroke="#777" stroke-width="1.1"/>
<circle cx="809.5" cy="429.2" r="15.2" fill="none" stroke="#333" stroke-width="1.2"/>
<circle cx="809.5" cy="429.2" r="13" fill="none" stroke="#777" stroke-width="0.8"/>
<circle cx="809.5" cy="429.2" r="2.1" fill="none" stroke="#444" stroke-width="0.9"/>
<path d="M893.3,336.5 L904,336.5 Q906.8,337.5 906.8,340.5 L906.8,361.9 Q906.8,364.9 904,365.9 L893.3,365.9Z" fill="#8e8e8e" stroke="#3a3a3a" stroke-width="1"/>
<line x1="894" y1="338.2" x2="906" y2="338.2" stroke="#b4b4b4" stroke-width="0.7" />
<line x1="894" y1="340.3" x2="906" y2="340.3" stroke="#b4b4b4" stroke-width="0.7" />
<line x1="894" y1="342.4" x2="906" y2="342.4" stroke="#b4b4b4" stroke-width="0.7" />
<line x1="894" y1="344.5" x2="906" y2="344.5" stroke="#b4b4b4" stroke-width="0.7" />
<line x1="894" y1="346.59999999999997" x2="906" y2="346.59999999999997" stroke="#b4b4b4" stroke-width="0.7" />
<line x1="894" y1="348.7" x2="906" y2="348.7" stroke="#b4b4b4" stroke-width="0.7" />
<line x1="894" y1="350.8" x2="906" y2="350.8" stroke="#b4b4b4" stroke-width="0.7" />
<line x1="894" y1="352.9" x2="906" y2="352.9" stroke="#b4b4b4" stroke-width="0.7" />
<line x1="894" y1="355.0" x2="906" y2="355.0" stroke="#b4b4b4" stroke-width="0.7" />
<line x1="894" y1="357.09999999999997" x2="906" y2="357.09999999999997" stroke="#b4b4b4" stroke-width="0.7" />
<line x1="894" y1="359.2" x2="906" y2="359.2" stroke="#b4b4b4" stroke-width="0.7" />
<line x1="894" y1="361.3" x2="906" y2="361.3" stroke="#b4b4b4" stroke-width="0.7" />
<line x1="894" y1="363.4" x2="906" y2="363.4" stroke="#b4b4b4" stroke-width="0.7" />
<path d="M890.4,335 L893.3,335.8 L893.3,366.59999999999997 L890.4,367.4 Q889.2,365.4 889.2,363.4 L889.2,339 Q889.2,337 890.4,335Z" fill="#c4c4c4" stroke="#3a3a3a" stroke-width="1"/>
<line x1="890.3" y1="340" x2="890.3" y2="362.4" stroke="#333" stroke-width="1.2" />
</svg>
<table>
<tr><td class="k">A</td><td class="v">Ansaugung &nbsp;•&nbsp; <i>Suction</i></td></tr>
<tr><td class="k">B</td><td class="v">Druck-Anschluss &nbsp;•&nbsp; <i>Pressure connection</i></td></tr>
<tr><td class="k">D</td><td class="v">Druck-Regulierventil &nbsp;•&nbsp; <i>Pressure regulating valve</i></td></tr>
<tr><td class="k">E</td><td class="v">Kühlluft-Eintritt &nbsp;•&nbsp; <i>Cooling air entry</i></td></tr>
<tr><td class="k">F</td><td class="v">Kühlluft-Austritt &nbsp;•&nbsp; <i>Cooling air exit</i></td></tr>
<tr><td class="k">N</td><td class="v">Datenschild &nbsp;•&nbsp; <i>Data plate</i></td></tr>
</table>
</body></html>
